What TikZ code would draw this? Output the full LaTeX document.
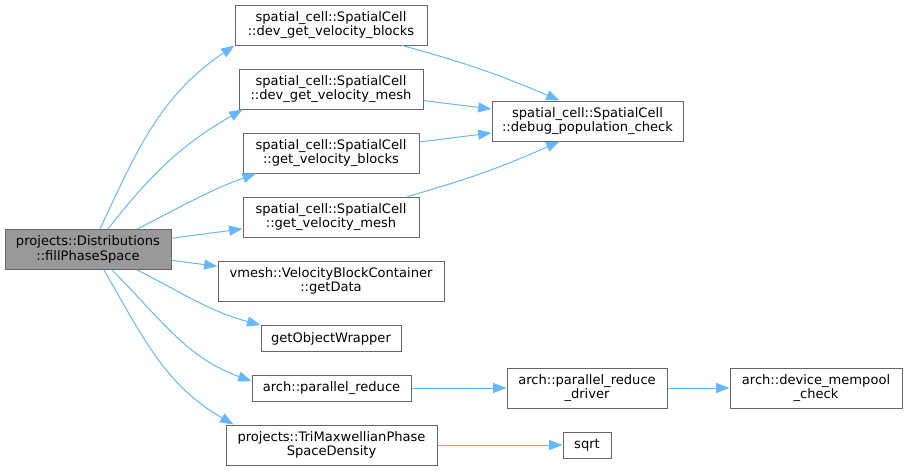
\documentclass[tikz,border=0pt]{standalone}
\usepackage{fontspec}
\setmainfont{DejaVu Sans}
\usetikzlibrary{positioning,arrows.meta}

\definecolor{edgeblue}{HTML}{63B8FF}
\definecolor{boxline}{HTML}{666666}
\definecolor{rootfill}{HTML}{999999}

\begin{document}
\begin{tikzpicture}[
    x=0.75pt, y=0.75pt,
    func/.style = {draw=boxline, fill=white, line width=0.75pt, align=center, inner sep=0pt,
                   font=\fontsize{9.8}{10.7}\selectfont, minimum height=30pt},
    single/.style = {func, minimum height=19.5pt},
    root/.style = {func, fill=rootfill},
    call/.style = {->, >={Triangle[length=10pt,width=7.5pt]}, draw=edgeblue, line width=0.75pt}
    ]
    \useasboundingbox (0,0) rectangle (907,-471);

    \node[root, minimum width=124.5pt] (fill) at (88,-249.5) {projects::Distributions\\::fillPhaseSpace};

    \node[func, minimum width=144pt] (devblocks) at (331,-25) {spatial\_cell::SpatialCell\\::dev\_get\_velocity\_blocks};
    \node[func, minimum width=138pt] (devmesh) at (331,-89) {spatial\_cell::SpatialCell\\::dev\_get\_velocity\_mesh};
    \node[func, minimum width=132pt] (getblocks) at (331,-153) {spatial\_cell::SpatialCell\\::get\_velocity\_blocks};
    \node[func, minimum width=132pt] (getmesh) at (331,-217) {spatial\_cell::SpatialCell\\::get\_velocity\_mesh};
    \node[func, minimum width=169.5pt] (getdata) at (331,-281) {vmesh::VelocityBlockContainer\\::getData};
    \node[single, minimum width=105pt] (wrapper) at (331,-338.5) {getObjectWrapper};
    \node[single, minimum width=119.25pt] (preduce) at (331.5,-388) {arch::parallel\_reduce};
    \node[func, minimum width=158.25pt] (trimax) at (331.5,-445) {projects::TriMaxwellianPhase\\SpaceDensity};

    \node[func, minimum width=143.25pt] (debug) at (587.5,-121) {spatial\_cell::SpatialCell\\::debug\_population\_check};
    \node[func, minimum width=120pt] (driver) at (587,-388) {arch::parallel\_reduce\\\_driver};
    \node[single, minimum width=36pt] (sqrt) at (587,-445) {sqrt};
    \node[func, minimum width=129pt] (mempool) at (816,-388) {arch::device\_mempool\\\_check};

    % calls from the root
    \draw[call] ([xshift=9]fill.north) to[out=65, in=-146] (devblocks.south west);
    \draw[call] ([xshift=15]fill.north) to[out=52, in=-150] ([xshift=3]devmesh.south west);
    \draw[call] ([xshift=37]fill.north) to[out=27, in=-160] ([xshift=10]getblocks.south west);
    \draw[call] (fill) -- (getmesh);
    \draw[call] (fill) -- (getdata);
    \draw[call] ([xshift=37]fill.south) to[out=-27, in=165] (wrapper.north west);
    \draw[call] ([xshift=18]fill.south) to[out=-45, in=160] ([yshift=-5]preduce.north west);
    \draw[call] ([xshift=12]fill.south) to[out=-60, in=150] ([xshift=6]trimax.north west);

    % into the population check
    \draw[call] ([xshift=-19]devblocks.south east) to[bend left=4] ([xshift=51]debug.north west);
    \draw[call] (devmesh) -- (debug);
    \draw[call] (getblocks) -- (debug);
    \draw[call] ([xshift=-9]getmesh.north east) to[bend right=4] ([xshift=51]debug.south west);

    \draw[call] (preduce) -- (driver);
    \draw[call] (driver) -- (mempool);
    \draw[call] (trimax) -- (sqrt);
\end{tikzpicture}
\end{document}
